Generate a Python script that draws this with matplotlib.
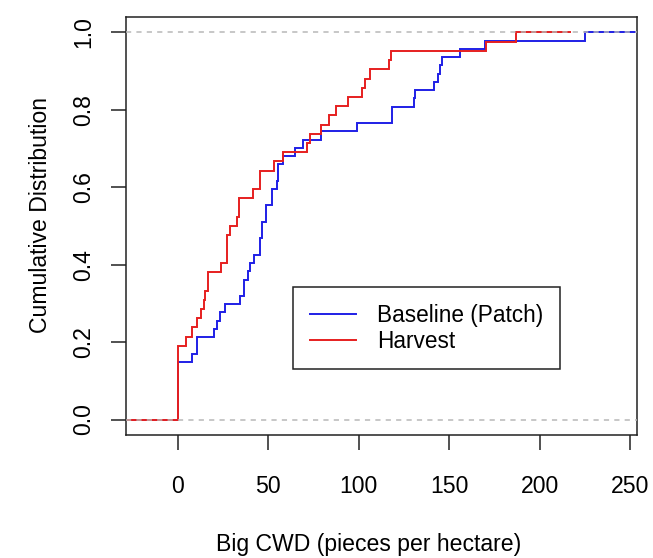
import numpy as np
import matplotlib
matplotlib.use("Agg")
import matplotlib.pyplot as plt
from matplotlib.lines import Line2D

plt.rcParams['font.family'] = ['Liberation Sans', 'DejaVu Sans']

baseline_patch = [0, 0, 0, 0, 0, 0, 0,
                  8.1, 11, 11, 20, 21.8, 23.2, 26.2, 34.5, 36.5, 36.5,
                  38.8, 40.1, 42, 45.3, 45.3, 46.6, 46.6, 48.8, 48.8,
                  52.1, 52.1, 54.8, 55.7, 55.7, 58.1, 65, 69.5, 79, 99,
                  118.6, 118.6, 130.4, 131, 141.4, 143.6, 144.7, 146.1,
                  156, 169.8, 225.3]
harvest = [0, 0, 0, 0, 0, 0, 0, 0,
           4.8, 8.1, 10.5, 13, 14.5, 15.4, 16.7, 16.7, 24, 27.5, 27.5,
           27.5, 29.2, 32.7, 33.7, 33.7, 41.5, 45.7, 45.7, 53, 58, 71.3,
           73.2, 79, 83.8, 87.5, 94.4, 101.9, 103.8, 106.2, 116.8, 118,
           170.3, 187]
series_labels = ["Baseline (Patch)", "Harvest"]
series_colors = ["#1f1fe6", "#e61f1f"]
x_ticks = [0, 50, 100, 150, 200, 250]
y_ticks = [0.0, 0.2, 0.4, 0.6, 0.8, 1.0]


def ecdf_path(obs):
    """Step path of the empirical CDF, extended like R's plot.stepfun."""
    x = np.sort(np.asarray(obs, dtype=float))
    knots, counts = np.unique(x, return_counts=True)
    levels = np.cumsum(counts) / len(x)
    rng = knots.max() - knots.min()
    dr = max(0.08 * rng, np.median(np.diff(knots)))
    left = knots.min() - 2 * dr
    right = knots.max() + 2 * dr
    xs = [left]
    ys = [0.0]
    prev = 0.0
    for k, lv in zip(knots, levels):
        xs += [k, k]
        ys += [prev, lv]
        prev = lv
    xs.append(right)
    ys.append(prev)
    return xs, ys, knots


fig = plt.figure(figsize=(6.53, 5.58), dpi=100)
ax = fig.add_axes([126 / 653, 1 - 435 / 558, (637 - 126) / 653, (435 - 17) / 558])

handles = []
for obs, lab, col in zip([baseline_patch, harvest], series_labels, series_colors):
    xs, ys, _ = ecdf_path(obs)
    ax.plot(xs, ys, color=col, lw=1.4, solid_joinstyle='miter', zorder=2)
    handles.append(Line2D([], [], color=col, lw=1.4))

for h in (0, 1):
    ax.axhline(h, color='#b8b8b8', lw=1.1, dashes=(3.4, 3.4), zorder=3)

# axis ranges like R (data range + 4 %)
_, _, kb = ecdf_path(baseline_patch)
rb = kb.max() - kb.min()
drb = max(0.08 * rb, np.median(np.diff(kb)))
xl0, xl1 = kb.min() - drb, kb.max() + drb
pad = 0.04 * (xl1 - xl0)
ax.set_xlim(xl0 - pad, xl1 + pad)
ax.set_ylim(-0.04, 1.04)

fs = 16.6
ax.set_xticks(x_ticks)
ax.set_xticklabels([str(t) for t in x_ticks])
ax.set_yticks(y_ticks)
ax.set_yticklabels([f"{t:.1f}" for t in y_ticks], rotation=90, va='center')
ax.tick_params(axis='x', direction='out', length=11, width=1.1, color='#222222',
               labelsize=fs, pad=18)
ax.tick_params(axis='y', direction='out', length=11, width=1.1, color='#222222',
               labelsize=fs, pad=11)
for sp in ax.spines.values():
    sp.set_linewidth(1.1)
    sp.set_color('#222222')

ax.set_xlabel("Big CWD (pieces per hectare)", fontsize=fs)
ax.set_ylabel("Cumulative Distribution", fontsize=fs)
ax.xaxis.set_label_coords((368.5 - 126) / 511, (435 - 533) / 418)
ax.yaxis.set_label_coords((52 - 126) / 511, (435 - 215) / 418)

leg = ax.legend(handles, series_labels, loc='upper left',
                bbox_to_anchor=((293 - 126) / 511, (435 - 287) / 418),
                borderaxespad=0, fontsize=16.3, frameon=True, fancybox=False,
                borderpad=0.73, labelspacing=0.14, handlelength=2.06,
                handletextpad=0.93)
leg.get_frame().set_edgecolor('#222222')
leg.get_frame().set_linewidth(1.1)
leg.get_frame().set_alpha(1)

fig.savefig("out.png", dpi=100)
